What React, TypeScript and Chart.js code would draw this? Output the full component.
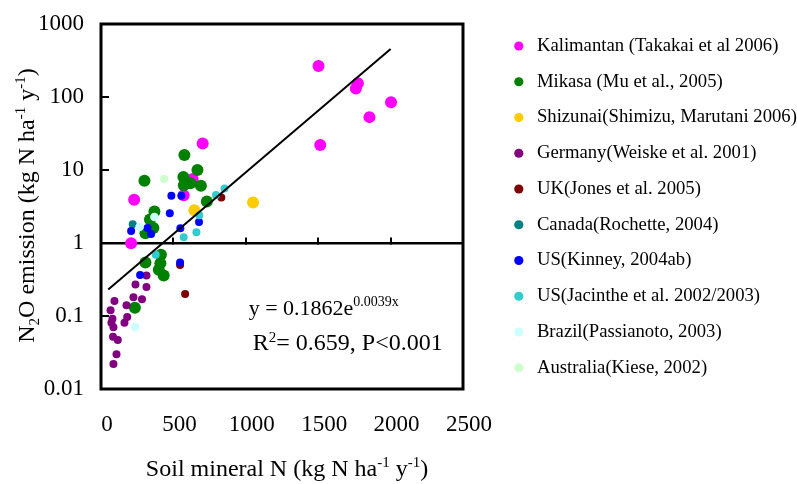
import React, { useEffect, useRef } from 'react';
import { Chart, registerables } from 'chart.js';

Chart.register(...registerables);

const FONT = "'Liberation Serif', 'Times New Roman', serif";

// ---- series meta ----
const seriesLabels = [
  'Kalimantan (Takakai et al 2006)',
  'Mikasa (Mu et al., 2005)',
  'Shizunai(Shimizu, Marutani 2006)',
  'Germany(Weiske et al. 2001)',
  'UK(Jones et al. 2005)',
  'Canada(Rochette, 2004)',
  'US(Kinney, 2004ab)',
  'US(Jacinthe et al. 2002/2003)',
  'Brazil(Passianoto, 2003)',
  'Australia(Kiese, 2002)',
];
const seriesColors = ['#FF00FF', '#008000', '#FFCC00', '#800080', '#800000', '#008080', '#0000FF', '#33CCCC', '#CCFFFF', '#CCFFCC'];
const seriesRadius = [6, 6, 6, 4, 4, 4, 4, 4, 4.3, 4];

// ---- data (soil mineral N, N2O emission) ----
const kalimantanX = [1502, 1774, 1760, 2003, 1854, 1514, 702, 229, 208, 633, 571];
const kalimantanY = [266, 154, 131, 85, 53, 22, 23, 3.9, 0.99, 7.5, 4.5];

const mikasaX = [576, 300, 666, 569, 572, 617, 690, 731, 369, 338, 362, 307, 307, 414, 410, 399, 433, 234];
const mikasaY = [16.0, 7.1, 10.0, 8.0, 6.2, 6.6, 6.1, 3.7, 2.7, 2.1, 1.6, 1.36, 0.54, 0.69, 0.53, 0.43, 0.36, 0.13];

const shizunaiX = [1050, 645];
const shizunaiY = [3.6, 2.8];

const germanyX = [314, 238, 314, 224, 283, 93, 176, 66, 181, 79, 162, 72, 86, 83, 116, 107, 86];
const germanyY = [0.36, 0.27, 0.25, 0.18, 0.17, 0.16, 0.14, 0.12, 0.097, 0.092, 0.081, 0.081, 0.07, 0.052, 0.047, 0.03, 0.022];

const ukX = [831, 581, 546];
const ukY = [4.2, 0.2, 0.5];

const canadaX = [219];
const canadaY = [1.8];

const kinneyX = [486, 555, 475, 677, 548, 208, 321, 346, 270, 546];
const kinneyY = [4.45, 4.45, 2.55, 1.94, 1.59, 1.46, 1.61, 1.33, 0.365, 0.54];

const jacintheX = [853, 794, 679, 659, 571, 378];
const jacintheY = [5.6, 4.55, 2.4, 1.4, 1.2, 0.69];

const brazilX = [369, 266, 236];
const brazilY = [2.27, 1.66, 0.071];

const australiaX = [436];
const australiaY = [7.5];

const seriesX = [kalimantanX, mikasaX, shizunaiX, germanyX, ukX, canadaX, kinneyX, jacintheX, brazilX, australiaX];
const seriesY = [kalimantanY, mikasaY, shizunaiY, germanyY, ukY, canadaY, kinneyY, jacintheY, brazilY, australiaY];

// ---- trend line ----
const trendX = [50, 2000];
const trendY = [0.23, 454];

// ---- ticks ----
const xTicks = [0, 500, 1000, 1500, 2000, 2500];
const yTicks = [0.01, 0.1, 1, 10, 100, 1000];

// ---- texts ----
type Seg = { t: string; s: number; dy?: number };
const xTitleSegs: Seg[] = [
  { t: 'Soil mineral N (kg N ha', s: 24 },
  { t: '-1', s: 15, dy: -9 },
  { t: ' y', s: 24 },
  { t: '-1', s: 15, dy: -9 },
  { t: ')', s: 24 },
];
const yTitleSegs: Seg[] = [
  { t: 'N', s: 24 },
  { t: '2', s: 15, dy: 5 },
  { t: 'O emission (kg N ha', s: 24 },
  { t: '-1', s: 15, dy: -9 },
  { t: ' y', s: 24 },
  { t: '-1', s: 15, dy: -9 },
  { t: ')', s: 24 },
];
const equationSegs: Seg[] = [
  { t: 'y = 0.1862e', s: 22 },
  { t: '0.0039x', s: 14, dy: -9 },
];
const statSegs: Seg[] = [
  { t: 'R', s: 24 },
  { t: '2', s: 15, dy: -8 },
  { t: '= 0.659, P<0.001', s: 24 },
];
const equationAt = [1020, 0.103];
const statAt = [1048, 0.034];

function drawSegs(ctx: CanvasRenderingContext2D, segs: Seg[], x: number, y: number, align: 'left' | 'center') {
  let total = 0;
  const widths = segs.map((sg) => {
    ctx.font = `${sg.s}px ${FONT}`;
    const w = ctx.measureText(sg.t).width;
    total += w;
    return w;
  });
  let cx = align === 'center' ? x - total / 2 : x;
  segs.forEach((sg, i) => {
    ctx.font = `${sg.s}px ${FONT}`;
    ctx.fillText(sg.t, cx, y + (sg.dy || 0));
    cx += widths[i];
  });
}

const annotationPlugin = {
  id: 'annotations',
  afterDraw(chart: any) {
    const { ctx, chartArea: a, scales } = chart;
    ctx.save();
    ctx.strokeStyle = '#000';
    ctx.lineWidth = 3;
    ctx.strokeRect(a.left, a.top, a.right - a.left, a.bottom - a.top);
    ctx.fillStyle = '#000';
    ctx.textBaseline = 'alphabetic';
    ctx.textAlign = 'left';
    drawSegs(ctx, xTitleSegs, (a.left + a.right) / 2 + 5, chart.height - 8, 'center');
    ctx.save();
    ctx.translate(34, (a.top + a.bottom) / 2 - 1);
    ctx.rotate(-Math.PI / 2);
    drawSegs(ctx, yTitleSegs, 0, 0, 'center');
    ctx.restore();
    drawSegs(ctx, equationSegs, scales.x.getPixelForValue(equationAt[0]), scales.y.getPixelForValue(equationAt[1]), 'left');
    drawSegs(ctx, statSegs, scales.x.getPixelForValue(statAt[0]), scales.y.getPixelForValue(statAt[1]), 'left');
    ctx.restore();
  },
};

export default function App() {
  const ref = useRef<HTMLCanvasElement>(null);
  useEffect(() => {
    document.body.style.margin = '0';
    Chart.defaults.font.family = FONT;
    Chart.defaults.color = '#000';
    const datasets: any[] = seriesLabels.map((label, i) => ({
      label,
      data: seriesX[i].map((x, k) => ({ x, y: seriesY[i][k] })),
      backgroundColor: seriesColors[i],
      borderColor: seriesColors[i],
      borderWidth: 0,
      pointRadius: seriesRadius[i],
      pointHoverRadius: seriesRadius[i],
      order: 20 - i,
    }));
    datasets.push({
      label: 'trend',
      data: trendX.map((x, k) => ({ x, y: trendY[k] })),
      showLine: true,
      borderColor: '#000',
      backgroundColor: '#000',
      borderWidth: 2,
      pointRadius: 0,
      fill: false,
      order: 0,
    });
    const chart = new Chart(ref.current!, {
      type: 'scatter',
      data: { datasets },
      options: {
        responsive: false,
        animation: false,
        devicePixelRatio: 1,
        layout: { padding: 0 },
        scales: {
          x: {
            type: 'linear',
            position: 'bottom',
            min: 0,
            max: 2500,
            afterBuildTicks: (s: any) => { s.ticks = xTicks.map((v) => ({ value: v })); },
            afterFit: (s: any) => { s.height = 95; },
            grid: { display: false, drawTicks: false },
            border: { display: false },
            ticks: { padding: 22, labelOffset: 6, font: { family: FONT, size: 23 }, color: '#000', maxRotation: 0, callback: (v: any) => String(v) },
          },
          x2: {
            type: 'linear',
            axis: 'x',
            position: { y: 1 },
            min: 0,
            max: 2500,
            afterBuildTicks: (s: any) => { s.ticks = xTicks.map((v) => ({ value: v })); },
            afterFit: (s: any) => { s.height = 0; },
            ticks: { display: false },
            grid: { drawOnChartArea: false, drawTicks: true, tickLength: -7, color: '#000', lineWidth: 2 },
            border: { display: true, color: '#000', width: 2.5 },
          },
          y: {
            type: 'logarithmic',
            position: 'left',
            min: 0.01,
            max: 1000,
            afterBuildTicks: (s: any) => { s.ticks = yTicks.map((v) => ({ value: v })); },
            afterFit: (s: any) => { s.width = 101; s.paddingTop = 0; s.paddingBottom = 0; },
            grid: { drawOnChartArea: false, drawTicks: true, tickLength: -8, color: '#000', lineWidth: 2 },
            border: { display: false },
            ticks: { padding: 25, font: { family: FONT, size: 23 }, color: '#000', callback: (v: any) => String(v) },
          },
          yR: {
            type: 'linear',
            axis: 'y',
            position: 'right',
            min: 0,
            max: 1,
            afterFit: (s: any) => { s.width = 30; s.paddingTop = 0; s.paddingBottom = 0; },
            ticks: { display: false },
            grid: { display: false, drawTicks: false },
            border: { display: false },
          },
        },
        plugins: {
          tooltip: { enabled: false },
          title: {
            display: true,
            text: '',
            fullSize: false,
            font: { size: 10, lineHeight: 1 },
            padding: { top: 14, bottom: 0 },
          },
          legend: {
            position: 'right',
            align: 'start',
            maxWidth: 304,
            title: { display: true, text: '', font: { size: 10, lineHeight: 1 }, padding: { top: 9.6, bottom: 0 } },
            labels: {
              usePointStyle: true,
              pointStyle: 'circle',
              boxWidth: 17.5,
              boxHeight: 6.5,
              padding: 17.05,
              color: '#000',
              font: { family: FONT, size: 18.7 },
              filter: (it: any) => it.datasetIndex < seriesLabels.length,
              sort: (a: any, b: any) => a.datasetIndex - b.datasetIndex,
            },
          },
        },
      } as any,
      plugins: [annotationPlugin],
    });
    return () => chart.destroy();
  }, []);
  return <canvas ref={ref} width={797} height={484} style={{ display: 'block', width: 797, height: 484 }} />;
}
